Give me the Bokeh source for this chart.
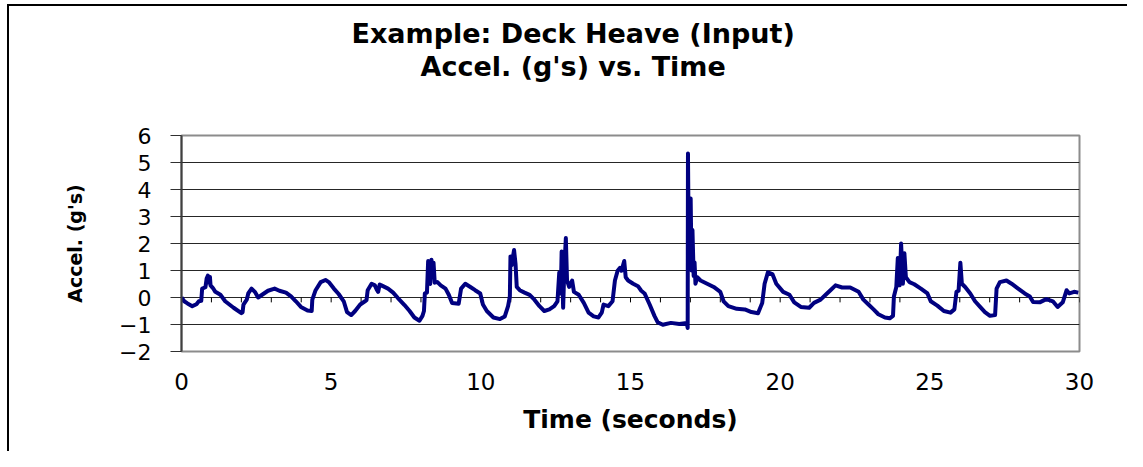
from bokeh.plotting import figure
from bokeh.models import Range1d, FixedTicker, Title
from bokeh.embed import file_html
from bokeh.resources import INLINE

# ---- data ----
time_s = [0.00, 0.09, 0.20, 0.36, 0.50, 0.58, 0.66, 0.69, 0.80, 0.84, 0.88, 0.92, 0.95, 0.97, 1.05, 1.13,
          1.30, 1.46, 1.74, 2.00, 2.04, 2.07, 2.18, 2.23, 2.34, 2.45, 2.56, 2.73, 2.89, 3.11, 3.27, 3.49,
          3.66, 3.82, 3.99, 4.21, 4.35, 4.37, 4.48, 4.65, 4.81, 4.92, 5.09, 5.25, 5.42, 5.53, 5.67, 5.80,
          5.97, 6.13, 6.18, 6.22, 6.35, 6.46, 6.52, 6.57, 6.62, 6.68, 6.90, 7.07, 7.23, 7.45, 7.62, 7.78,
          7.95, 8.05, 8.10, 8.13, 8.20, 8.24, 8.28, 8.31, 8.35, 8.38, 8.42, 8.46, 8.55, 8.66, 8.82, 8.93,
          9.04, 9.26, 9.34, 9.48, 9.65, 9.81, 9.98, 10.07, 10.20, 10.42, 10.64, 10.80, 10.91, 10.97, 10.99,
          11.03, 11.05, 11.11, 11.16, 11.20, 11.30, 11.46, 11.63, 11.79, 11.96, 12.12, 12.29, 12.45, 12.56,
          12.62, 12.67, 12.70, 12.75, 12.79, 12.84, 12.88, 12.95, 13.05, 13.11, 13.27, 13.44, 13.60, 13.77,
          13.93, 14.04, 14.10, 14.26, 14.40, 14.48, 14.57, 14.65, 14.70, 14.79, 14.84, 14.92, 15.09, 15.25,
          15.36, 15.47, 15.64, 15.80, 15.91, 16.08, 16.35, 16.63, 16.88, 16.91, 16.92, 16.95, 16.98, 17.01,
          17.04, 17.07, 17.11, 17.14, 17.17, 17.23, 17.34, 17.56, 17.78, 18.00, 18.11, 18.27, 18.55, 18.82,
          19.04, 19.26, 19.40, 19.48, 19.59, 19.74, 19.87, 20.10, 20.31, 20.47, 20.69, 20.97, 21.13, 21.35,
          21.52, 21.68, 21.85, 22.07, 22.34, 22.62, 22.78, 22.95, 23.12, 23.28, 23.50, 23.66, 23.77, 23.80,
          23.88, 23.93, 23.99, 24.04, 24.10, 24.15, 24.20, 24.32, 24.48, 24.70, 24.92, 25.03, 25.25, 25.47,
          25.69, 25.82, 25.89, 25.96, 26.02, 26.07, 26.18, 26.35, 26.51, 26.68, 26.84, 27.01, 27.18, 27.23,
          27.34, 27.56, 27.73, 27.95, 28.17, 28.34, 28.45, 28.67, 28.89, 29.11, 29.27, 29.44, 29.57, 29.66,
          29.82, 29.96]
accel_g = [0.00, -0.14, -0.22, -0.32, -0.25, -0.14, -0.12, 0.33, 0.38, 0.70, 0.81, 0.55, 0.76, 0.45, 0.35, 0.21,
           0.10, -0.14, -0.38, -0.58, -0.55, -0.26, -0.08, 0.15, 0.33, 0.21, 0.00, 0.13, 0.25, 0.33, 0.25, 0.18,
           0.04, -0.14, -0.35, -0.48, -0.50, -0.08, 0.27, 0.57, 0.65, 0.57, 0.33, 0.13, -0.14, -0.54, -0.65, -0.50,
           -0.26, -0.14, -0.10, 0.27, 0.51, 0.45, 0.30, 0.21, 0.48, 0.45, 0.33, 0.18, -0.02, -0.28, -0.50, -0.74,
           -0.86, -0.68, -0.50, 0.15, 0.18, 1.35, 0.70, 0.50, 1.40, 0.80, 1.29, 0.55, 0.57, 0.45, 0.33, 0.10,
           -0.20, -0.23, 0.33, 0.51, 0.39, 0.27, 0.15, -0.26, -0.50, -0.74, -0.80, -0.70, -0.32, 0.04, 1.52,
           1.20, 1.35, 1.76, 1.23, 0.39, 0.27, 0.18, 0.10, -0.08, -0.32, -0.50, -0.44, -0.32, -0.14,
           0.93, 0.15, 1.70, -0.38, 1.10, 2.20, 0.63, 0.39, 0.63, 0.21, 0.10, -0.20, -0.56, -0.70,
           -0.74, -0.56, -0.26, -0.32, -0.14, 0.63, 0.99, 1.10, 0.99, 1.35, 0.75, 0.63, 0.51, 0.42,
           0.25, 0.15, -0.26, -0.68, -0.92, -1.01, -0.94, -0.98, -0.94, -1.13, 5.33, 1.30, 1.50, 3.67,
           1.00, 2.50, 0.80, 1.30, 0.51, 0.75, 0.63, 0.51, 0.39, 0.21, -0.14, -0.32, -0.42, -0.44,
           -0.54, -0.58, -0.20, 0.51, 0.93, 0.87, 0.51, 0.21, 0.10, -0.18, -0.35, -0.38, -0.20, -0.08,
           0.10, 0.27, 0.45, 0.37, 0.37, 0.21, -0.08, -0.26, -0.44, -0.62, -0.74, -0.77, -0.68, 0.04,
           0.39, 1.46, 0.45, 2.00, 0.51, 1.64, 0.75, 0.57, 0.49, 0.33, 0.15, -0.14, -0.30, -0.50,
           -0.56, -0.44, 0.21, 0.25, 1.29, 0.51, 0.39, 0.15, -0.14, -0.35, -0.54, -0.68, -0.65, 0.33,
           0.57, 0.63, 0.51, 0.33, 0.15, 0.04, -0.17, -0.18, -0.06, -0.14, -0.35, -0.18, 0.27, 0.15,
           0.21, 0.18]

x_ticks = [0, 5, 10, 15, 20, 25, 30]
y_ticks = [-2, -1, 0, 1, 2, 3, 4, 5, 6]
minor_x_ticks = list(range(0, 31))

title_line1 = "Example: Deck Heave (Input)"
title_line2 = "Accel. (g's) vs. Time"
x_label = "Time (seconds)"
y_label = "Accel. (g's)"

p = figure(width=1127, height=451, output_backend="svg", toolbar_location=None,
           x_range=Range1d(0, 30), y_range=Range1d(-2, 6),
           min_border_left=181, min_border_right=48, min_border_top=135, min_border_bottom=100)
# chart-area border (left and top edges visible, as in the cropped original)
p.styles = {
    "background": ("linear-gradient(#000,#000) 7px 4px / 2px 100% no-repeat, "
                   "linear-gradient(#000,#000) 7px 4px / 100% 2px no-repeat, #fff"),
}
p.background_fill_color = "white"
p.border_fill_color = None
p.outline_line_color = "#8c8c8c"
p.outline_line_width = 2

# two-line chart title: line 1 outermost, then line 2, then a blank gap above the frame
TITLE_FONT_SIZE = "27px"
p.title.text = title_line1
p.title.align = "left"
p.title.offset = 170
p.title.text_color = "black"
p.title.text_font = "DejaVu Sans"
p.title.text_font_style = "bold"
p.title.text_font_size = TITLE_FONT_SIZE
p.title.standoff = 0
gap = Title(text=" ", text_font_size="10px", standoff=41)
p.add_layout(gap, "above")
t2 = Title(text=title_line2, align="left", offset=239, text_color="black", text_font="DejaVu Sans",
           text_font_style="bold", text_font_size=TITLE_FONT_SIZE, standoff=0)
p.add_layout(t2, "above")

# grid
p.xgrid.visible = False
p.ygrid.ticker = FixedTicker(ticks=y_ticks)
p.ygrid.grid_line_color = "black"
p.ygrid.grid_line_alpha = 0.85
p.ygrid.grid_line_width = 1

# x axis (labels only, below)
xa = p.xaxis[0]
xa.ticker = FixedTicker(ticks=x_ticks)
xa.axis_line_color = None
xa.major_tick_line_color = None
xa.minor_tick_line_color = None
xa.major_tick_out = 0
xa.major_label_standoff = 21
xa.major_label_text_font = "DejaVu Sans"
xa.major_label_text_font_size = "23px"
xa.major_label_text_color = "black"
xa.axis_label = x_label
xa.axis_label_text_color = "black"
xa.axis_label_text_font = "DejaVu Sans"
xa.axis_label_text_font_style = "bold"
xa.axis_label_text_font_size = "25px"
xa.axis_label_standoff = 12

# y axis
ya = p.yaxis[0]
ya.ticker = FixedTicker(ticks=y_ticks)
ya.axis_line_color = "#404040"
ya.axis_line_width = 2
ya.major_tick_line_color = "#303030"
ya.major_tick_line_width = 1
ya.major_tick_out = 11
ya.major_tick_in = 0
ya.minor_tick_line_color = None
ya.major_label_standoff = 19
ya.major_label_text_font = "DejaVu Sans"
ya.major_label_text_font_size = "22px"
ya.major_label_text_color = "black"
ya.axis_label = y_label
ya.axis_label_text_color = "black"
ya.axis_label_text_font = "DejaVu Sans"
ya.axis_label_text_font_style = "bold"
ya.axis_label_text_font_size = "19px"
ya.axis_label_standoff = 30

# tick marks on the zero line (the category axis crosses at 0)
tick_len = 0.18
p.segment(x0=minor_x_ticks, y0=[0] * len(minor_x_ticks), x1=minor_x_ticks,
          y1=[-tick_len] * len(minor_x_ticks), line_color="black", line_width=1)

# signal
p.line(time_s, accel_g, line_color="#000080", line_width=4.0, line_join="round")

open("out.html", "w").write(file_html(p, INLINE))
